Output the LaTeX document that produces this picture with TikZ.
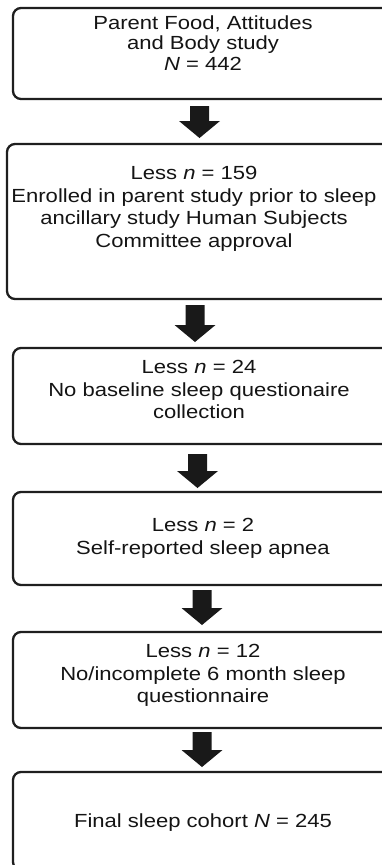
\documentclass[tikz,border=0pt]{standalone}
\usepackage{fontspec}
\setmainfont{Liberation Sans}[FakeStretch=1.16]
\begin{document}
\begin{tikzpicture}[x=1pt,y=1pt,
  box/.style={draw=black!88, line width=2.3pt, rounded corners=8pt, inner sep=0pt},
  txt/.style={align=center, inner sep=0pt, anchor=north, text=black!92,
    font=\fontsize{19pt}{22.5pt}\selectfont},
  blk/.style={fill=black!90, draw=none}]
\useasboundingbox (0,0) rectangle (381,-865);
% boxes
\node[box, minimum width=379pt, minimum height=91pt] (b1) at (202.5,-53.5) {};
\node[box, minimum width=385pt, minimum height=155pt] (b2) at (199.5,-221.5) {};
\node[box, minimum width=379pt, minimum height=96pt] (b3) at (202.5,-396) {};
\node[box, minimum width=379pt, minimum height=93pt] (b4) at (202.5,-538.5) {};
\node[box, minimum width=379pt, minimum height=96pt] (b5) at (202.5,-680) {};
\node[box, minimum width=379pt, minimum height=98pt] (b6) at (202.5,-821) {};
% texts
\node[txt, font=\fontsize{19pt}{20.5pt}\selectfont] (t1) at (203,-15.2)
  {Parent Food, Attitudes\\and Body study\\\textit{N} = 442};
\node[txt] (t2) at (194,-166.2)
  {Less \textit{n} = 159\\Enrolled in parent study prior to sleep\\ancillary study Human Subjects\\Committee approval};
\node[txt] (t3) at (199,-360.2)
  {Less \textit{n} = 24\\No baseline sleep questionaire\\collection};
\node[txt] (t4) at (203,-518.2)
  {Less \textit{n} = 2\\Self-reported sleep apnea};
\node[txt] (t5) at (203,-644.2)
  {Less \textit{n} = 12\\No/incomplete 6 month sleep\\questionnaire};
\node[txt] (t6) at (203,-813.2)
  {Final sleep cohort \textit{N} = 245};
% block arrows between boxes
\newcommand{\blkarrow}[3]{%
  \fill[blk] (#1-9.5,#2) -- (#1+9.5,#2) -- (#1+9.5,#3+17) -- (#1+20.5,#3+17)
    -- (#1,#3) -- (#1-20.5,#3+17) -- (#1-9.5,#3+17) -- cycle;}
\blkarrow{199.5}{-106}{-138}
\blkarrow{195}{-305}{-342}
\blkarrow{197.5}{-454}{-488}
\blkarrow{202}{-590}{-625}
\blkarrow{202}{-732}{-767}
\end{tikzpicture}
\end{document}
